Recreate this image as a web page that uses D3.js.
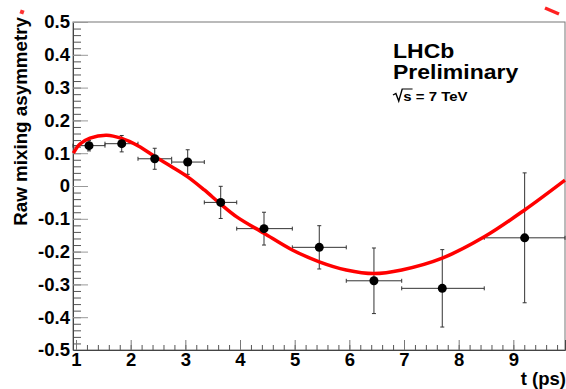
<!DOCTYPE html>
<html>
  <head>
    <title>Raw mixing asymmetry</title>
    <script src="https://d3js.org/d3.v7.min.js"></script>
    <style>
      body { margin: 0; background: #fff; }
      text { font-family: "Liberation Sans", Arial, sans-serif; font-weight: bold; fill: #000; }
    </style>
  </head>
  <body>
    <div id="chart"></div>
    <script>
      // Data points (t in ps, raw asymmetry)
      var tVals   = [1.238, 1.836, 2.44, 3.043, 3.647, 4.439, 5.45, 6.45, 7.70, 9.207];
      var asym    = [0.123, 0.129, 0.083, 0.073, -0.050, -0.130, -0.187, -0.289, -0.312, -0.158];
      var asymErr = [0.016, 0.025, 0.032, 0.0375, 0.049, 0.050, 0.066, 0.100, 0.118, 0.198];
      var binLo   = [0.945, 1.53, 2.134, 2.75, 3.347, 3.94, 4.957, 5.944, 6.958, 8.468];
      var binHi   = [1.53, 2.134, 2.75, 3.347, 3.94, 4.957, 5.944, 6.958, 8.468, 9.945];

      // Fit curve
      var fitT = [0.951, 1.073, 1.256, 1.562, 1.836, 2.14, 2.44, 2.75, 3.043, 3.347, 3.647, 3.94,
                  4.439, 4.957, 5.45, 5.944, 6.45, 6.958, 7.70, 8.468, 9.207, 9.945];
      var fitA = [0.100, 0.128, 0.146, 0.155, 0.145, 0.122, 0.090, 0.059, 0.028, -0.012, -0.055, -0.094,
                  -0.144, -0.195, -0.231, -0.256, -0.267, -0.256, -0.220, -0.155, -0.073, 0.018];

      var xTicks = [1, 2, 3, 4, 5, 6, 7, 8, 9];
      var yTicks = [-0.5, -0.4, -0.3, -0.2, -0.1, 0, 0.1, 0.2, 0.3, 0.4, 0.5];

      var svg = d3.select("#chart")
        .append("svg")
        .attr("width", 566)
        .attr("height", 389);

      var x = d3.scaleLinear().domain([0.945, 9.945]).range([73, 565]);
      var y = d3.scaleLinear().domain([-0.5, 0.5]).range([350, 22]);

      // frame
      svg.append("rect")
        .attr("x", 73).attr("y", 22)
        .attr("width", 492).attr("height", 328)
        .attr("fill", "none")
        .attr("stroke", "#777")
        .attr("stroke-width", 1);

      // y axis: minor then major ticks, pointing into the frame
      svg.append("g")
        .attr("transform", "translate(73,0)")
        .call(d3.axisLeft(y).tickValues(d3.range(-0.5, 0.501, 0.02)).tickSize(-8).tickFormat(""))
        .call(g => g.select(".domain").remove())
        .selectAll("line").attr("stroke", "#555");

      var yAxis = svg.append("g")
        .attr("transform", "translate(73,0)")
        .call(d3.axisLeft(y).tickValues(yTicks).tickSize(-15).tickPadding(3)
          .tickFormat(d => d === 0 ? "0" : d.toFixed(1)));
      yAxis.select(".domain").attr("stroke", "#444");
      yAxis.selectAll("line").attr("stroke", "#999");
      yAxis.selectAll("text")
        .attr("font-size", 18.5)
        .attr("font-family", "Liberation Sans, Arial, sans-serif")
        .attr("font-weight", "bold")
        .attr("fill", "#000");

      // x axis
      svg.append("g")
        .attr("transform", "translate(0,350)")
        .call(d3.axisBottom(x).tickValues(d3.range(1, 9.95, 0.2)).tickSize(-5).tickFormat(""))
        .call(g => g.select(".domain").remove())
        .selectAll("line").attr("stroke", "#555");

      var xAxis = svg.append("g")
        .attr("transform", "translate(0,350)")
        .call(d3.axisBottom(x).tickValues(xTicks).tickSize(-10).tickPadding(3).tickFormat(d3.format("d")));
      xAxis.select(".domain").attr("stroke", "#444");
      xAxis.selectAll("line").attr("stroke", "#777");
      xAxis.selectAll("text")
        .attr("font-size", 18.5)
        .attr("font-family", "Liberation Sans, Arial, sans-serif")
        .attr("font-weight", "bold")
        .attr("fill", "#000");

      // axis titles
      svg.append("text")
        .attr("x", 566).attr("y", 385)
        .attr("text-anchor", "end")
        .attr("font-size", 18.5)
        .text("t (ps)");

      svg.append("text")
        .attr("transform", "translate(27,17) rotate(-90)")
        .attr("text-anchor", "end")
        .attr("font-size", 18.8)
        .text("Raw mixing asymmetry");

      // data with error bars
      var pts = tVals.map(function(t, i) {
        return { t: t, a: asym[i], e: asymErr[i], lo: binLo[i], hi: binHi[i] };
      });

      var bars = svg.append("g").attr("stroke", "#333").attr("stroke-width", 1);
      pts.forEach(function(d) {
        bars.append("line")
          .attr("x1", x(d.lo)).attr("x2", x(d.hi))
          .attr("y1", y(d.a)).attr("y2", y(d.a));
        bars.append("line")
          .attr("x1", x(d.t)).attr("x2", x(d.t))
          .attr("y1", y(d.a - d.e)).attr("y2", y(d.a + d.e));
        // end caps
        [d.lo, d.hi].forEach(function(v) {
          bars.append("line")
            .attr("x1", x(v)).attr("x2", x(v))
            .attr("y1", y(d.a) - 2).attr("y2", y(d.a) + 2);
        });
        [d.a - d.e, d.a + d.e].forEach(function(v) {
          bars.append("line")
            .attr("x1", x(d.t) - 2).attr("x2", x(d.t) + 2)
            .attr("y1", y(v)).attr("y2", y(v));
        });
      });

      // fit curve
      var line = d3.line()
        .x(function(d, i) { return x(fitT[i]); })
        .y(function(d) { return y(d); })
        .curve(d3.curveCatmullRom);

      svg.append("path")
        .datum(fitA)
        .attr("d", line)
        .attr("fill", "none")
        .attr("stroke", "#f00")
        .attr("stroke-width", 3.5);

      svg.selectAll("circle")
        .data(pts)
        .enter()
        .append("circle")
        .attr("cx", function(d) { return x(d.t); })
        .attr("cy", function(d) { return y(d.a); })
        .attr("r", 4.5)
        .attr("fill", "#000");

      // LHCb label (slightly stretched, like the original)
      var lab = svg.append("g").attr("transform", "translate(393,0) scale(1.15,1)");
      lab.append("text").attr("x", 0).attr("y", 58).attr("font-size", 20).text("LHCb");
      lab.append("text").attr("x", 0).attr("y", 79).attr("font-size", 20).text("Preliminary");
      lab.append("text").attr("x", 9).attr("y", 101).attr("font-size", 13).text("s = 7 TeV");
      lab.append("path")
        .attr("d", "M0,95 L2.5,93.5 L5,101 L8,89 L17,89")
        .attr("fill", "none")
        .attr("stroke", "#000")
        .attr("stroke-width", 1.2);

      // stray red marks at top corners
      svg.append("rect").attr("x", 20).attr("y", 10).attr("width", 4).attr("height", 4)
        .attr("fill", "#f33").attr("transform", "rotate(20,22,12)");
      svg.append("line")
        .attr("x1", 545).attr("y1", 8).attr("x2", 559).attr("y2", 14)
        .attr("stroke", "#f22").attr("stroke-width", 3.5);
    </script>
  </body>
</html>
